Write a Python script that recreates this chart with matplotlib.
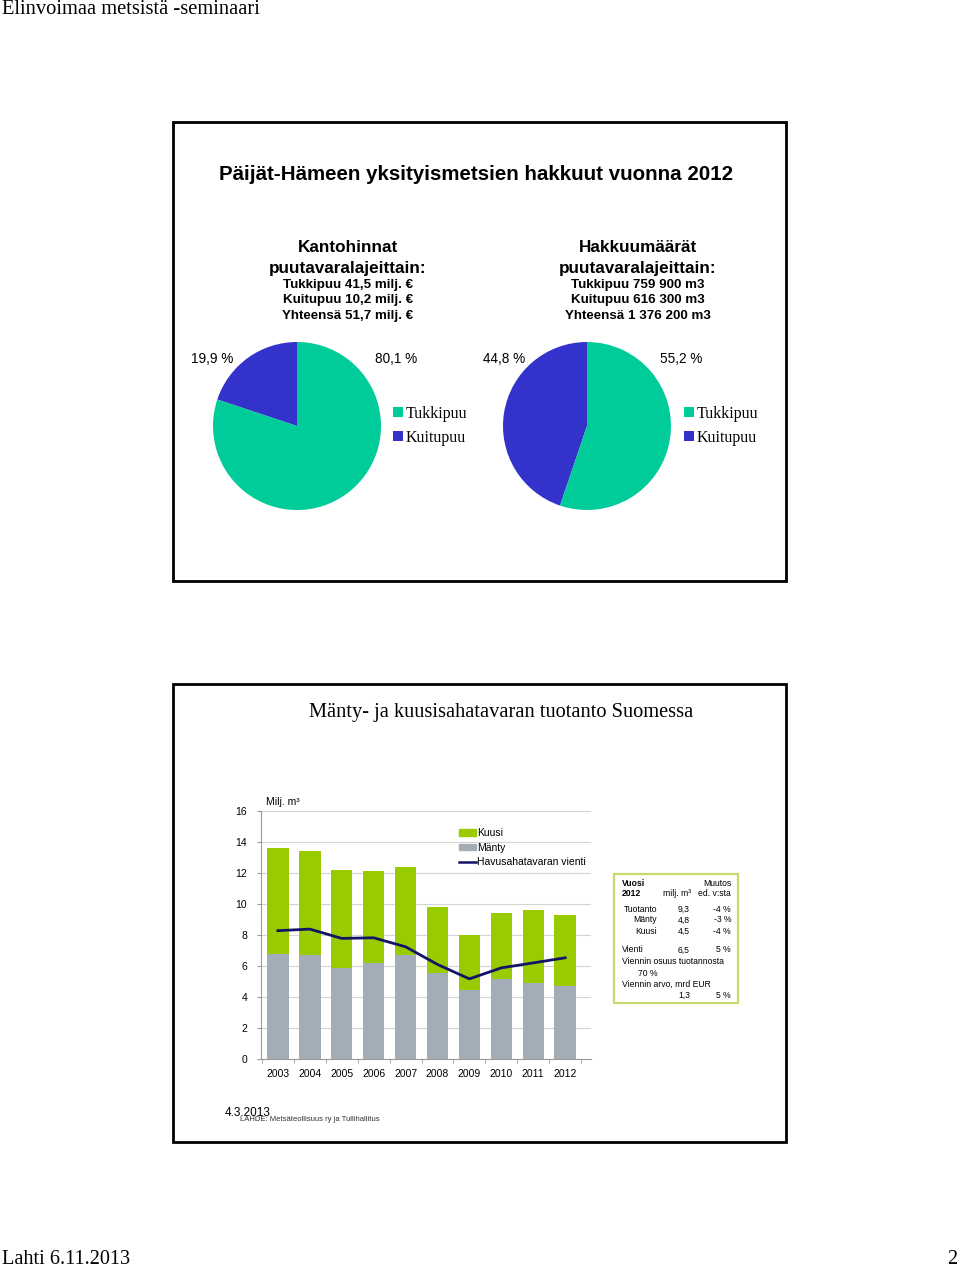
import numpy as np
import matplotlib
matplotlib.use("Agg")
import matplotlib.pyplot as plt
from matplotlib.patches import Rectangle, Patch
from matplotlib.lines import Line2D

W, H = 960, 1268
SANS = "Liberation Sans"
SERIF = "Liberation Serif"

# Slide 1: pie data
pie_labels = ["Tukkipuu", "Kuitupuu"]
kanto_pct = [80.1, 19.9]    # stumpage value share
hakkuu_pct = [55.2, 44.8]   # felling volume share
TEAL = "#00CC99"
BLUE = "#3333CC"

# Slide 2: sawn softwood production
years = ["2003", "2004", "2005", "2006", "2007", "2008", "2009", "2010", "2011", "2012"]
manty = [6.79, 6.68, 5.88, 6.21, 6.68, 5.56, 4.48, 5.13, 4.91, 4.74]
kuusi = [6.85, 6.77, 6.32, 5.92, 5.71, 4.24, 3.52, 4.29, 4.72, 4.55]
vienti = [8.28, 8.38, 7.78, 7.82, 7.24, 6.10, 5.17, 5.88, 6.20, 6.53]
GREEN = "#99CC00"
GREY = "#A3ADB8"
NAVY = "#141466"


def fx(x):
    return x / W


def fy(y):
    return 1 - y / H


def fmt_pct(v):
    return "{0:.1f} %".format(v).replace(".", ",")


fig = plt.figure(figsize=(9.6, 12.68), dpi=100)

# page header / footer
fig.text(fx(2), fy(9), "Elinvoimaa metsistä -seminaari", family=SERIF, fontsize=14.8, va="center")
fig.text(fx(2), fy(1259), "Lahti 6.11.2013", family=SERIF, fontsize=14.6, va="center")
fig.text(fx(957), fy(1259), "2", family=SERIF, fontsize=14.6, va="center", ha="right")

# slide frames
for top, bottom in [(122, 581), (684, 1142)]:
    fig.patches.append(Rectangle((fx(173), fy(bottom)), fx(786) - fx(173), fy(top) - fy(bottom),
                                 transform=fig.transFigure, fill=False, edgecolor="black", lw=2))

# ---- slide 1 ----
fig.text(fx(476), fy(174), "Päijät-Hämeen yksityismetsien hakkuut vuonna 2012",
         family=SANS, weight="bold", fontsize=14.8, ha="center", va="center")

fig.text(fx(348), fy(247), "Kantohinnat", family=SANS, weight="bold", fontsize=12.3, ha="center", va="center")
fig.text(fx(348), fy(268), "puutavaralajeittain:", family=SANS, weight="bold", fontsize=12.3, ha="center", va="center")
for yy, s in zip([285, 300, 316], ["Tukkipuu 41,5 milj. €", "Kuitupuu 10,2 milj. €", "Yhteensä 51,7 milj. €"]):
    fig.text(fx(348), fy(yy), s, family=SANS, weight="bold", fontsize=9.6, ha="center", va="center")

fig.text(fx(638), fy(247), "Hakkuumäärät", family=SANS, weight="bold", fontsize=12.3, ha="center", va="center")
fig.text(fx(638), fy(268), "puutavaralajeittain:", family=SANS, weight="bold", fontsize=12.3, ha="center", va="center")
for yy, s in zip([285, 300, 316], ["Tukkipuu 759 900 m3", "Kuitupuu 616 300 m3", "Yhteensä 1 376 200 m3"]):
    fig.text(fx(638), fy(yy), s, family=SANS, weight="bold", fontsize=9.6, ha="center", va="center")

pie_specs = [
    (297, kanto_pct, 212, 396, 393),
    (587, hakkuu_pct, 504, 681, 684),
]
for cx, vals, lx_k, lx_t, legx in pie_specs:
    r = 84
    ax = fig.add_axes([fx(cx - r), fy(426 + r), fx(2 * r), fy(426 - r) - fy(426 + r)])
    # Kuitupuu first, starting at 12 o'clock, counterclockwise
    wedges, _ = ax.pie([vals[1], vals[0]], colors=[BLUE, TEAL], startangle=90,
                       counterclock=True, radius=1)
    ax.set_xlim(-1, 1)
    ax.set_ylim(-1, 1)
    ax.set_aspect("auto")
    ax.axis("off")
    fig.text(fx(lx_k), fy(359), fmt_pct(vals[1]), family=SANS, fontsize=9.8, ha="center", va="center")
    fig.text(fx(lx_t), fy(359), fmt_pct(vals[0]), family=SANS, fontsize=9.8, ha="center", va="center")
    fig.legend([wedges[1], wedges[0]], pie_labels, loc="upper left",
               bbox_to_anchor=(fx(legx), fy(406)), frameon=False,
               prop={"family": SERIF, "size": 11.5}, handlelength=0.6, handleheight=0.6,
               handletextpad=0.2, labelspacing=0.5, borderpad=0, borderaxespad=0)

# ---- slide 2 ----
fig.text(fx(501), fy(713), "Mänty- ja kuusisahatavaran tuotanto Suomessa",
         family=SERIF, fontsize=14.7, ha="center", va="center")

bx = fig.add_axes([fx(261), fy(1059), fx(591) - fx(261), fy(811) - fy(1059)])
x = np.arange(len(years))
bx.bar(x, manty, width=0.67, color=GREY, zorder=2)
bx.bar(x, kuusi, width=0.67, bottom=manty, color=GREEN, zorder=2)
bx.plot(x, vienti, color=NAVY, lw=2, zorder=3)
bx.set_xlim(-0.53, 9.81)
bx.set_ylim(0, 16)
bx.set_yticks(np.arange(0, 17, 2))
bx.set_xticks(x)
bx.set_xticklabels(years)
bx.set_xticks(np.arange(-0.5, 10, 1), minor=True)
bx.tick_params(axis="x", which="major", length=0, pad=7, labelsize=7.5)
bx.tick_params(axis="x", which="minor", length=3, color="#999999")
bx.tick_params(axis="y", length=3, color="#999999", pad=7, labelsize=7.5)
for lab in bx.get_xticklabels() + bx.get_yticklabels():
    lab.set_family(SANS)
bx.grid(axis="y", color="#D4D4D4", lw=0.8, zorder=0)
for sp in ["top", "right"]:
    bx.spines[sp].set_visible(False)
for sp in ["left", "bottom"]:
    bx.spines[sp].set_color("#999999")
bx.set_facecolor("none")

fig.text(fx(266), fy(802), "Milj. m³", family=SANS, fontsize=7.5, va="center")

fig.legend([Patch(color=GREEN), Patch(color=GREY), Line2D([0], [0], color=NAVY, lw=1.8)],
           ["Kuusi", "Mänty", "Havusahatavaran vienti"], loc="upper left",
           bbox_to_anchor=(fx(459), fy(828)), frameon=False,
           prop={"family": SANS, "size": 7.5}, handlelength=1.6, handleheight=0.6,
           handletextpad=0.15, labelspacing=0.45, borderpad=0, borderaxespad=0)

# info box
fig.patches.append(Rectangle((fx(614), fy(1003)), fx(738) - fx(614), fy(874) - fy(1003),
                             transform=fig.transFigure, fill=False, edgecolor="#C4DA6A", lw=1.6))
box_fs = 6.2


def bt(xx, yy, s, ha="left", weight="normal"):
    fig.text(fx(xx), fy(yy), s, family=SANS, fontsize=box_fs, ha=ha, va="center", weight=weight)


bt(622, 884, "Vuosi", weight="bold")
bt(731, 884, "Muutos", ha="right")
bt(622, 894, "2012", weight="bold")
bt(691, 894, "milj. m³", ha="right")
bt(731, 894, "ed. v:sta", ha="right")
rows = [("Tuotanto", 909, "9,3", "-4 %"), ("Mänty", 920, "4,8", "-3 %"), ("Kuusi", 931, "4,5", "-4 %")]
for name, yy, val, ch in rows:
    bt(657, yy, name, ha="right")
    bt(690, yy, val, ha="right")
    bt(731, yy, ch, ha="right")
bt(622, 950, "Vienti")
bt(690, 950, "6,5", ha="right")
bt(731, 950, "5 %", ha="right")
bt(622, 962, "Viennin osuus tuotannosta")
bt(638, 973, "70 %")
bt(622, 984, "Viennin arvo, mrd EUR")
bt(690, 995, "1,3", ha="right")
bt(731, 995, "5 %", ha="right")

fig.text(fx(225), fy(1113), "4.3.2013", family=SANS, fontsize=8.5, va="center")
fig.text(fx(240), fy(1119), "LÄHDE: Metsäteollisuus ry ja Tullihallitus", family=SANS, fontsize=5.5,
         va="center", color="#333333")

fig.savefig("out.png", dpi=100, facecolor="white")
